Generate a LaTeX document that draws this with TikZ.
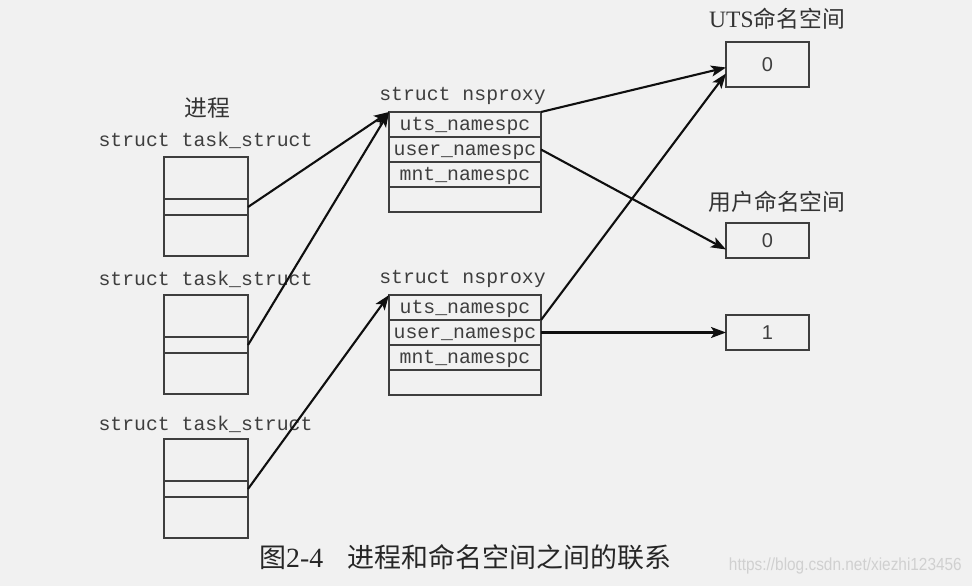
\documentclass[tikz,border=0pt]{standalone}
\usepackage{fontspec}
\setmainfont{Liberation Serif}
\setsansfont{Liberation Sans}
\setmonofont{Liberation Mono}
\newfontfamily\song{Noto Sans CJK SC}[Scale=0.97]
\usetikzlibrary{arrows.meta}
\definecolor{paper}{RGB}{241,241,241}
\definecolor{ink}{RGB}{62,62,62}
\definecolor{linkink}{RGB}{15,15,15}
\definecolor{wmgray}{RGB}{208,208,208}

\begin{document}
\begin{tikzpicture}[x=1pt,y=-1pt,
  cell/.style={draw=ink,line width=1.3pt,inner sep=0pt,outer sep=0pt,minimum width=84pt},
  nscell/.style={draw=ink,line width=1.3pt,inner sep=0pt,outer sep=0pt,minimum width=152pt,minimum height=25pt,
    text height=14pt,text depth=3pt,
    font=\ttfamily\fontsize{19.8}{20}\selectfont,text=ink},
  valbox/.style={draw=ink,line width=1.3pt,inner sep=0pt,outer sep=0pt,minimum width=83pt,
    font=\sffamily\fontsize{20}{20}\selectfont,text=ink},
  codelabel/.style={inner sep=0pt,font=\ttfamily\fontsize{19.8}{20}\selectfont,text=ink},
  cjklabel/.style={inner sep=0pt,font=\song\fontsize{23.5}{24}\selectfont\mdseries,text=black!80},
  link/.style={draw=linkink,line width=2.1pt,-{Stealth[length=15pt,width=11pt,inset=3.5pt]}}
]
% page background and extent
\fill[paper] (0,0) rectangle (972,586);
\useasboundingbox (0,0) rectangle (972,586);

% process side: three task_struct blocks
\node[cjklabel] (proc) at (207,108) {进程};
\node[codelabel] (tl1) at (205.5,140) {struct task\_struct};
\node[cell,minimum height=42pt] (t1a) at (206,178) {};
\node[cell,minimum height=16pt] (t1b) at (206,207) {};
\node[cell,minimum height=41pt] (t1c) at (206,235.5) {};

\node[codelabel] (tl2) at (205.5,279) {struct task\_struct};
\node[cell,minimum height=42pt] (t2a) at (206,316) {};
\node[cell,minimum height=16pt] (t2b) at (206,345) {};
\node[cell,minimum height=41pt] (t2c) at (206,373.5) {};

\node[codelabel] (tl3) at (205.5,424) {struct task\_struct};
\node[cell,minimum height=42pt] (t3a) at (206,460) {};
\node[cell,minimum height=16pt] (t3b) at (206,489) {};
\node[cell,minimum height=41pt] (t3c) at (206,517.5) {};

% two nsproxy structures
\node[codelabel] (nl1) at (462.5,96) {struct nsproxy};
\node[nscell] (n1u) at (465,124.5) {uts\_namespc};
\node[nscell] (n1s) at (465,149.5) {user\_namespc};
\node[nscell] (n1m) at (465,174.5) {mnt\_namespc};
\node[nscell] (n1e) at (465,199.5) {};

\node[codelabel] (nl2) at (462.5,279) {struct nsproxy};
\node[nscell] (n2u) at (465,307.5) {uts\_namespc};
\node[nscell] (n2s) at (465,332.5) {user\_namespc};
\node[nscell] (n2m) at (465,357.5) {mnt\_namespc};
\node[nscell] (n2e) at (465,382.5) {};

% namespaces
\node[cjklabel] (utsl) at (777,19) {{\rmfamily UTS}命名空间};
\node[valbox,minimum height=45pt] (uts) at (767.5,64.5) {0};
\node[cjklabel] (userl) at (777,202) {用户命名空间};
\node[valbox,minimum height=35pt] (uo0) at (767.5,240.5) {0};
\node[valbox,minimum height=35pt] (uo1) at (767.5,332.5) {1};

% references
\draw[link] (t1b.east) -- (n1u.north west);
\draw[link] (t2b.east) -- (n1u.north west);
\draw[link] (t3b.east) -- (n2u.north west);
\draw[link] (n1u.north east) -- ([yshift=-3pt]uts.west);
\draw[link] (n2u.south east) -- ([yshift=-9pt]uts.west);
\draw[link] (n1s.east) -- ([yshift=-9pt]uo0.west);
\draw[link] (n2s.east) -- (uo1.west);

% caption and source line
\node[inner sep=0pt,anchor=west,font=\song\fontsize{27.8}{28}\selectfont,text=black!85] (cap) at (259,557)
  {图{\rmfamily 2-4}\hspace{0.9em}进程和命名空间之间的联系};
\node[inner sep=0pt,anchor=east,font=\sffamily\fontsize{17.5}{18}\selectfont,text=wmgray,xscale=0.88] (src) at (962,566)
  {https://blog.csdn.net/xiezhi123456};
\end{tikzpicture}
\end{document}
